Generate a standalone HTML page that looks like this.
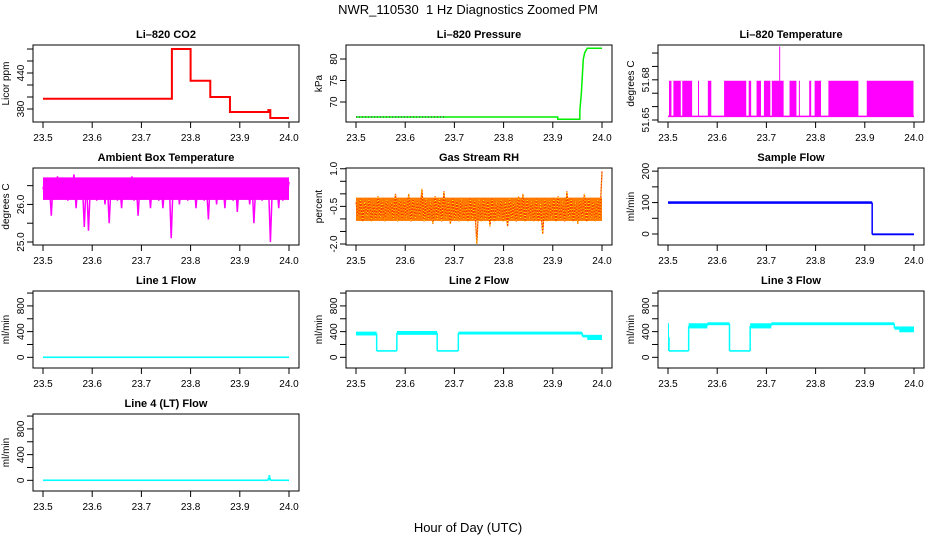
<!DOCTYPE html>
<html><head><meta charset="utf-8"><title>NWR_110530 1 Hz Diagnostics Zoomed PM</title>
<style>html,body{margin:0;padding:0;background:#fff}svg{display:block}text{font-family:"Liberation Sans",Arial,sans-serif}</style>
</head><body>
<svg id="chart" width="936" height="540" viewBox="0 0 936 540" xmlns="http://www.w3.org/2000/svg">
<text x="468" y="14" text-anchor="middle" font-size="13">NWR_110530&#160; 1 Hz Diagnostics Zoomed PM</text>
<text x="468" y="532" text-anchor="middle" font-size="13">Hour of Day (UTC)</text>
</svg>
<script>
// ---- data ----
const xTicks=[23.5,23.6,23.7,23.8,23.9,24.0];
const xTickLabels=["23.5","23.6","23.7","23.8","23.9","24.0"];
// CO2 step series: times and values
const co2T=[23.5,23.76,23.762,23.80,23.84,23.88,23.958,23.962,24.0];
const co2V=[397,397,480,427,400,375,378,365,365];
// Pressure
const presT=[23.5,23.91,23.91,23.955,23.955,23.958,23.960,23.962,23.965,23.970,24.0];
const presV=[66.5,66.5,66.0,66.0,68.0,72.0,76.0,80.0,81.5,82.5,82.5];
// Li-820 temperature: low/high levels and intervals of high switching
const tempLow=51.6527, tempHigh=51.6793;
const tempHighStart=[23.502,23.511,23.529,23.561,23.581,23.614,23.664,23.680,23.695,23.711,23.747,23.766,23.787,23.798,23.826,23.904];
const tempHighEnd=[23.507,23.526,23.549,23.563,23.588,23.659,23.669,23.689,23.708,23.735,23.761,23.767,23.791,23.811,23.887,23.999];
const tempSpikeT=23.727, tempSpikeV=51.7049;
// Ambient box temperature (evenly sampled over 23.5-24.0)
const ambV=[26.4,26.7,26.2,26.6,25.7,26.7,26.3,26.75,26.2,26.6,26.3,26.7,26.1,26.7,26.4,26.8,25.9,26.7,26.3,26.6,25.4,26.7,25.3,26.6,26.2,26.7,26.1,26.6,26.3,26.7,26.0,26.7,25.5,26.6,26.2,26.7,26.1,26.6,25.9,26.7,26.3,26.6,26.2,26.75,26.1,26.7,25.7,26.6,26.2,26.7,26.3,26.6,25.9,26.7,26.2,26.6,26.1,26.7,25.9,26.6,26.3,26.7,25.1,26.6,26.2,26.7,26.0,26.6,26.2,26.7,26.1,26.6,26.3,26.7,25.9,26.6,26.2,26.7,26.1,26.6,25.6,26.7,26.2,26.6,26.0,26.7,26.3,26.6,25.9,26.7,26.2,26.6,26.1,26.7,25.8,26.6,26.3,26.7,26.2,26.6,26.0,26.7,25.5,26.6,26.2,26.7,26.1,26.6,26.3,26.7,25.0,26.6,26.2,26.7,25.9,26.6,26.1,26.7,26.2,26.6];
// Gas stream RH (evenly sampled)
const rhV=[-0.3,-1.0,-0.2,-1.1,-0.3,-0.9,-0.2,-1.1,-0.4,-1.0,-0.1,-1.0,-0.3,-1.1,-0.2,-0.9,-0.3,-1.0,0.0,-1.1,-0.2,-1.0,-0.3,-1.0,0.0,-1.1,-0.2,-1.0,-0.3,-0.9,0.2,-1.1,-0.2,-1.0,-0.3,-1.2,-0.1,-1.0,-0.2,-1.1,0.1,-1.0,-0.3,-1.2,-0.2,-1.0,-0.3,-1.1,-0.2,-1.0,-0.4,-1.1,-0.2,-1.0,-0.3,-2.0,-0.2,-1.1,-0.2,-1.0,-0.3,-1.3,-0.2,-1.1,-0.3,-1.0,-0.2,-1.1,-0.3,-1.3,-0.2,-1.0,-0.3,-1.1,-0.1,-1.0,0.0,-1.1,-0.2,-1.0,-0.3,-1.1,-0.2,-1.1,-0.4,-1.6,-0.2,-1.1,-0.3,-1.0,-0.2,-1.1,-0.1,-1.0,-0.3,-1.1,0.1,-1.0,-0.2,-1.1,-0.3,-1.2,-0.2,-1.0,0.0,-1.1,-0.2,-1.0,-0.3,-1.1,-0.2,-1.0,0.9];
// Sample flow segments
const sfStart=[23.5,23.915], sfEnd=[23.915,24.0], sfLo=[96,-4], sfHi=[104,2];
// Line flows segments
const l1Start=[23.5], l1End=[24.0], l1Lo=[0], l1Hi=[2];
const l2Start=[23.5,23.542,23.583,23.665,23.708,23.96,23.97];
const l2End=[23.542,23.583,23.665,23.708,23.96,23.97,24.0];
const l2Lo=[340,95,350,95,355,310,270];
const l2Hi=[400,105,410,105,400,350,350];
const l3Start=[23.5,23.502,23.542,23.58,23.625,23.667,23.71,23.96,23.97];
const l3End=[23.502,23.542,23.58,23.625,23.667,23.71,23.96,23.97,24.0];
const l3Lo=[100,95,450,500,95,450,500,430,390];
const l3Hi=[530,105,530,545,105,530,545,480,480];
const l4Start=[23.5,23.958,23.962], l4End=[23.958,23.962,24.0], l4Lo=[0,0,0], l4Hi=[2,80,2];

// ---- drawing ----
const svg=document.getElementById('chart');
const NS='http://www.w3.org/2000/svg';
function mk(tag,attrs,parent){const e=document.createElementNS(NS,tag);for(const k in attrs)e.setAttribute(k,attrs[k]);(parent||svg).appendChild(e);return e;}
const colL=[33,346,658], rowT=[45,168,291,414], W=266, H=77;
function panel(name,col,row,title,ylab,ylim,ticks,labels){
  const g=mk('g',{});
  
  
  const L=colL[col],T=rowT[row];
  const sx=v=>L+10+(v-23.5)/0.5*246;
  const sy=v=>T+H-(v-ylim[0])/(ylim[1]-ylim[0])*H;
  const t=mk('text',{x:L+W/2,y:T-7,'text-anchor':'middle','font-size':'11','font-weight':'bold'},g);t.textContent=title;
  
  const box=mk('rect',{x:L,y:T,width:W,height:H,fill:'none',stroke:'#000','stroke-width':1},g);
  
  const xa=mk('g',{},g);
  mk('line',{x1:sx(23.5),x2:sx(24),y1:T+H,y2:T+H,stroke:'#000'},xa);
  xTicks.forEach((v,i)=>{mk('line',{x1:sx(v),x2:sx(v),y1:T+H,y2:T+H+6,stroke:'#000'},xa);
    const tl=mk('text',{x:sx(v),y:T+H+19,'text-anchor':'middle','font-size':'10'},xa);tl.textContent=xTickLabels[i];});
  const ya=mk('g',{},g);
  ticks.forEach((v,i)=>{const y=sy(v);mk('line',{x1:L-6,x2:L,y1:y,y2:y,stroke:'#000'},ya);
    if(labels[i]){const tl=mk('text',{x:L-9,y:y,'text-anchor':'middle','font-size':'10',transform:`rotate(-90 ${L-9} ${y})`},ya);tl.textContent=labels[i];}});
  const yl=mk('text',{x:L-24,y:T+H/2,'text-anchor':'middle','font-size':'10',transform:`rotate(-90 ${L-24} ${T+H/2})`},g);yl.textContent=ylab;
  
  const d=mk('g',{},g);
  return {sx,sy,d};
}
function evenLine(p,vals,color,w){const pts=vals.map((v,i)=>p.sx(23.5+0.5*i/(vals.length-1)).toFixed(1)+','+p.sy(v).toFixed(1)).join(' ');
  return mk('polyline',{points:pts,fill:'none',stroke:color,'stroke-width':w},p.d);}
function segs(p,st,en,lo,hi,color){
  for(let i=0;i<st.length;i++){
    const y1=p.sy(hi[i]),y2=p.sy(lo[i]);let h=Math.max(y2-y1,1.6);
    const r=mk('rect',{x:p.sx(st[i]),y:(y1+y2)/2-h/2,width:Math.max(p.sx(en[i])-p.sx(st[i]),1),height:h,fill:color},p.d);
    
    if(i>0){const a=p.sy((lo[i-1]+hi[i-1])/2),b=p.sy((lo[i]+hi[i])/2);mk('line',{x1:p.sx(st[i]),x2:p.sx(st[i]),y1:a,y2:b,stroke:color,'stroke-width':1.5},p.d);}
  }
}
// CO2
let p=panel('co2',0,0,'Li\u2013820 CO2','Licor ppm',[358.3,486.7],[380,400,420,440,460,480],['380','','','440','','']);
let pts=[];co2T.forEach((t,i)=>{if(i>0)pts.push(p.sx(t)+','+p.sy(co2V[i-1]));pts.push(p.sx(t)+','+p.sy(co2V[i]));});
mk('polyline',{points:pts.join(' '),fill:'none',stroke:'#ff0000','stroke-width':2},p.d);
// Pressure
p=panel('pressure',1,0,'Li\u2013820 Pressure','kPa',[65.35,83.26],[70,75,80],['70','75','80']);
mk('polyline',{points:presT.map((t,i)=>p.sx(t)+','+p.sy(presV[i])).join(' '),fill:'none',stroke:'#00ee00','stroke-width':1.5},p.d);
mk('line',{x1:p.sx(23.5),x2:p.sx(23.68),y1:p.sy(presV[0]),y2:p.sy(presV[0]),stroke:'#004400','stroke-width':1,'stroke-dasharray':'1 2'},p.d);
// Li-820 temperature
p=panel('li820-temperature',2,0,'Li\u2013820 Temperature','degrees C',[51.6485,51.7060],[51.65,51.66,51.67,51.68,51.69,51.70],['51.65','','','51.68','','']);
mk('line',{x1:p.sx(23.5),x2:p.sx(24),y1:p.sy(tempLow),y2:p.sy(tempLow),stroke:'#ff00ff','stroke-width':1.5},p.d);
tempHighStart.forEach((s,i)=>{const r=mk('rect',{x:p.sx(s),y:p.sy(tempHigh),width:Math.max(p.sx(tempHighEnd[i])-p.sx(s),1),height:p.sy(tempLow)-p.sy(tempHigh),fill:'#ff00ff'},p.d);
  });
mk('line',{x1:p.sx(tempSpikeT),x2:p.sx(tempSpikeT),y1:p.sy(tempHigh),y2:p.sy(tempSpikeV),stroke:'#ff00ff','stroke-width':1},p.d);
// Ambient
p=panel('ambient-box-temperature',0,1,'Ambient Box Temperature','degrees C',[24.92,26.97],[25,25.5,26,26.5],['25.0','','26.0','']);
mk('rect',{x:p.sx(23.5),y:p.sy(26.72),width:p.sx(24)-p.sx(23.5),height:p.sy(26.12)-p.sy(26.72),fill:'#ff00ff'},p.d);
evenLine(p,ambV,'#ff00ff',1.5);
// RH
p=panel('gas-stream-rh',1,1,'Gas Stream RH','percent',[-2.04,1.03],[1,0.5,0,-0.5,-1,-1.5,-2],['1.0','','','-0.5','','','-2.0']);
mk('rect',{x:p.sx(23.5),y:p.sy(-0.15),width:p.sx(24)-p.sx(23.5),height:p.sy(-1.08)-p.sy(-0.15),fill:'#ff7a00'},p.d);
evenLine(p,rhV,'#ff3000',1.2);
evenLine(p,rhV,'#ffff00',1).setAttribute('stroke-dasharray','1 2');
// Sample flow
p=panel('sample-flow',2,1,'Sample Flow','ml/min',[-35,210],[0,50,100,150,200],['0','','100','','200']);
segs(p,sfStart,sfEnd,sfLo,sfHi,'#0000ff');
// Lines
const fl=[-166,1032],ft=[0,200,400,600,800,1000],fll=['0','','400','','800',''];
p=panel('line1-flow',0,2,'Line 1 Flow','ml/min',fl,ft,fll);segs(p,l1Start,l1End,l1Lo,l1Hi,'#00ffff');
p=panel('line2-flow',1,2,'Line 2 Flow','ml/min',fl,ft,fll);segs(p,l2Start,l2End,l2Lo,l2Hi,'#00ffff');
p=panel('line3-flow',2,2,'Line 3 Flow','ml/min',fl,ft,fll);segs(p,l3Start,l3End,l3Lo,l3Hi,'#00ffff');
p=panel('line4-flow',0,3,'Line 4 (LT) Flow','ml/min',fl,ft,fll);segs(p,l4Start,l4End,l4Lo,l4Hi,'#00ffff');
</script>
</body></html>
